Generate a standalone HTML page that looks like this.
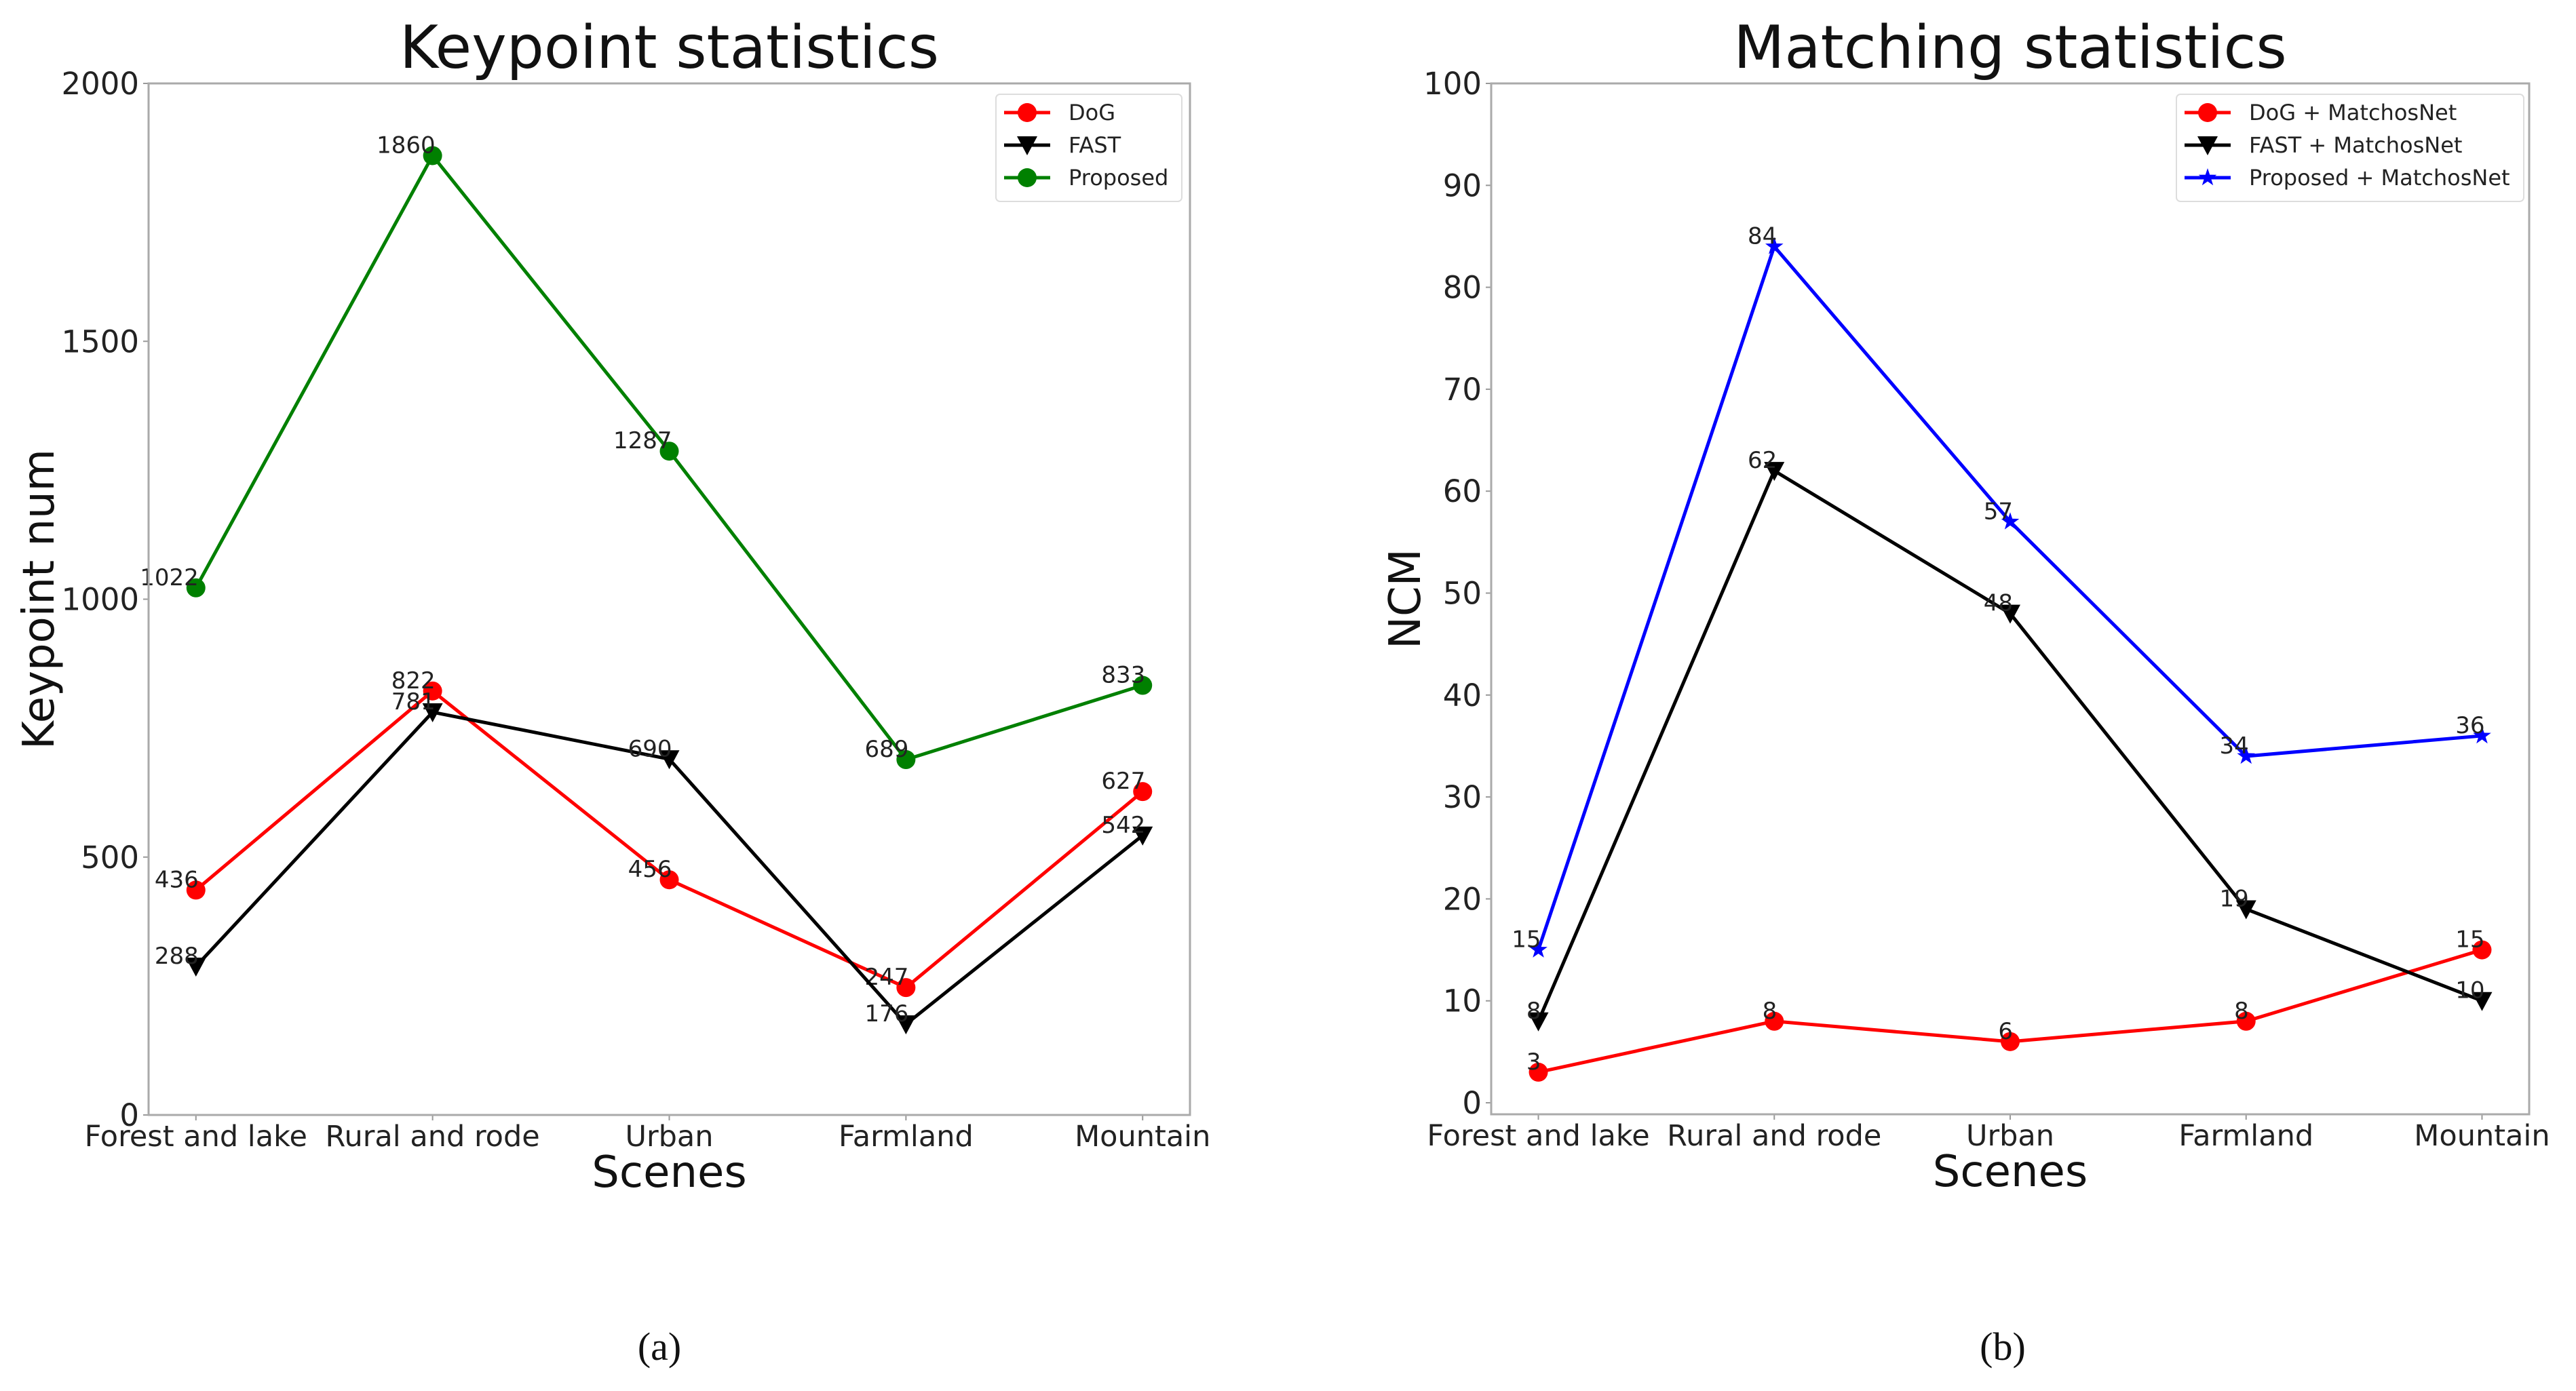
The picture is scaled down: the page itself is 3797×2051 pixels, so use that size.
<!DOCTYPE html>
<html><head><meta charset="utf-8"><style>
html,body{margin:0;padding:0;background:#fff}
svg{display:block;font-family:"DejaVu Sans","Liberation Sans",sans-serif}
</style></head><body>
<svg id="fig" width="3797" height="2051" viewBox="0 0 3797 2051" xmlns="http://www.w3.org/2000/svg">
<rect width="3797" height="2051" fill="#fff"/>
<g id="left"></g>
<g id="right"></g>
<text x="972" y="2005" font-family="Liberation Serif, serif" font-size="58" text-anchor="middle" fill="#111">(a)</text>
<text x="2952" y="2005" font-family="Liberation Serif, serif" font-size="58" text-anchor="middle" fill="#111">(b)</text>
</svg>
<script>
const categories = ["Forest and lake","Rural and rode","Urban","Farmland","Mountain"];
const kpTicks = [0,500,1000,1500,2000];
const kpDoG = [436,822,456,247,627];
const kpFAST = [288,781,690,176,542];
const kpProposed = [1022,1860,1287,689,833];
const ncmTicks = [0,10,20,30,40,50,60,70,80,90,100];
const ncmDoG = [3,8,6,8,15];
const ncmFAST = [8,62,48,19,10];
const ncmProposed = [15,84,57,34,36];

const NS="http://www.w3.org/2000/svg";
function mk(parent,tag,attrs,text){const e=document.createElementNS(NS,tag);for(const k in attrs)e.setAttribute(k,attrs[k]);if(text!==undefined)e.textContent=text;parent.appendChild(e);return e;}

function marker(g,type,x,y,color){
  let m;
  if(type==='circle'){m=mk(g,'circle',{cx:x,cy:y,r:14,fill:color});}
  else if(type==='tri'){m=mk(g,'polygon',{points:`${x-15},${y-13} ${x+15},${y-13} ${x},${y+15}`,fill:color});}
  else {let p=[];for(let i=0;i<10;i++){const r=i%2?5.5:14;const a=-Math.PI/2+i*Math.PI/5;p.push((x+r*Math.cos(a)).toFixed(1)+','+(y+r*Math.sin(a)).toFixed(1));}
    m=mk(g,'polygon',{points:p.join(' '),fill:color});}
  return m;
}

function chart(g,cfg){
  const {x0,x1,y0,y1,ymin,ymax,ticks,series,title,ylabel,legend,lx,lw}=cfg;
  const unit=(x1-x0)/4.4;
  const X=i=>x0+unit*(0.2+i);
  const Y=v=>y1-(v-ymin)/(ymax-ymin)*(y1-y0);
  const t=mk(g,'text',{x:(x0+x1)/2,y:100,'font-size':87,'text-anchor':'middle',fill:'#111'},title);
  
  
  ticks.forEach(v=>{
    const l=mk(g,'line',{x1:x0-8,x2:x0,y1:Y(v),y2:Y(v),stroke:'#999','stroke-width':2});
    
    
    const tt=mk(g,'text',{x:x0-14,y:Y(v)+16,'font-size':45,'text-anchor':'end',fill:'#222'},String(v));
    
    
  });
  categories.forEach((c,i)=>{
    const l=mk(g,'line',{x1:X(i),x2:X(i),y1:y1,y2:y1+8,stroke:'#999','stroke-width':2});
    
    
    const tt=mk(g,'text',{x:X(i),y:y1+46,'font-size':43,'text-anchor':'middle',fill:'#222'},c);
    
    
  });
  const xl=mk(g,'text',{x:(x0+x1)/2,y:y1+106,'font-size':64,'text-anchor':'middle',fill:'#111'},'Scenes');
  
  
  const yc=(y0+y1)/2, yx=x0-(ylabel==='NCM'?105:140);
  const yl=mk(g,'text',{x:yx,y:yc,'font-size':64,'text-anchor':'middle',fill:'#111',transform:`rotate(-90 ${yx} ${yc})`},ylabel);
  
  
  series.forEach(s=>{
    const sg=mk(g,'g',{});
    
    
    const pl=mk(sg,'polyline',{points:s.vals.map((v,i)=>X(i)+','+Y(v)).join(' '),fill:'none',stroke:s.color,'stroke-width':5});
    
    
    s.vals.forEach((v,i)=>{
      const m=marker(sg,s.marker,X(i),Y(v),s.color);
      
      
      const lb=mk(sg,'text',{x:X(i)+4,y:Y(v)-4,'font-size':34,'text-anchor':'end',fill:'#222'},String(v));
      
      
    });
  });
  const fr=mk(g,'rect',{x:x0,y:y0,width:x1-x0,height:y1-y0,fill:'none',stroke:'#aaa','stroke-width':3});
  
  
  const lg=mk(g,'g',{});
  
  
  mk(lg,'rect',{x:lx,y:139,width:lw,height:158,rx:6,fill:'#fff',stroke:'#ddd','stroke-width':2});
  series.forEach((s,k)=>{
    const ey=166+k*48;
    const e=mk(lg,'g',{});
    
    
    mk(e,'line',{x1:lx+12,x2:lx+80,y1:ey,y2:ey,stroke:s.color,'stroke-width':5});
    marker(e,s.marker,lx+46,ey,s.color);
    mk(e,'text',{x:lx+107,y:ey+11,'font-size':32,fill:'#222'},legend[k]);
  });
}

chart(document.getElementById('left'),{x0:219,x1:1754,y0:123,y1:1644,ymin:0,ymax:2000,ticks:kpTicks,
  title:'Keypoint statistics',ylabel:'Keypoint num',lx:1468,lw:274,
  legend:['DoG','FAST','Proposed'],
  series:[{key:'dog',vals:kpDoG,color:'#ff0000',marker:'circle'},{key:'fast',vals:kpFAST,color:'#000',marker:'tri'},{key:'proposed',vals:kpProposed,color:'#008000',marker:'circle'}]});
chart(document.getElementById('right'),{x0:2198,x1:3728,y0:123,y1:1643,ymin:-1.13,ymax:100,ticks:ncmTicks,
  title:'Matching statistics',ylabel:'NCM',lx:3208,lw:512,
  legend:['DoG + MatchosNet','FAST + MatchosNet','Proposed + MatchosNet'],
  series:[{key:'dog-matchosnet',vals:ncmDoG,color:'#ff0000',marker:'circle'},{key:'fast-matchosnet',vals:ncmFAST,color:'#000',marker:'tri'},{key:'proposed-matchosnet',vals:ncmProposed,color:'#0000ff',marker:'star'}]});
</script>
</body></html>
